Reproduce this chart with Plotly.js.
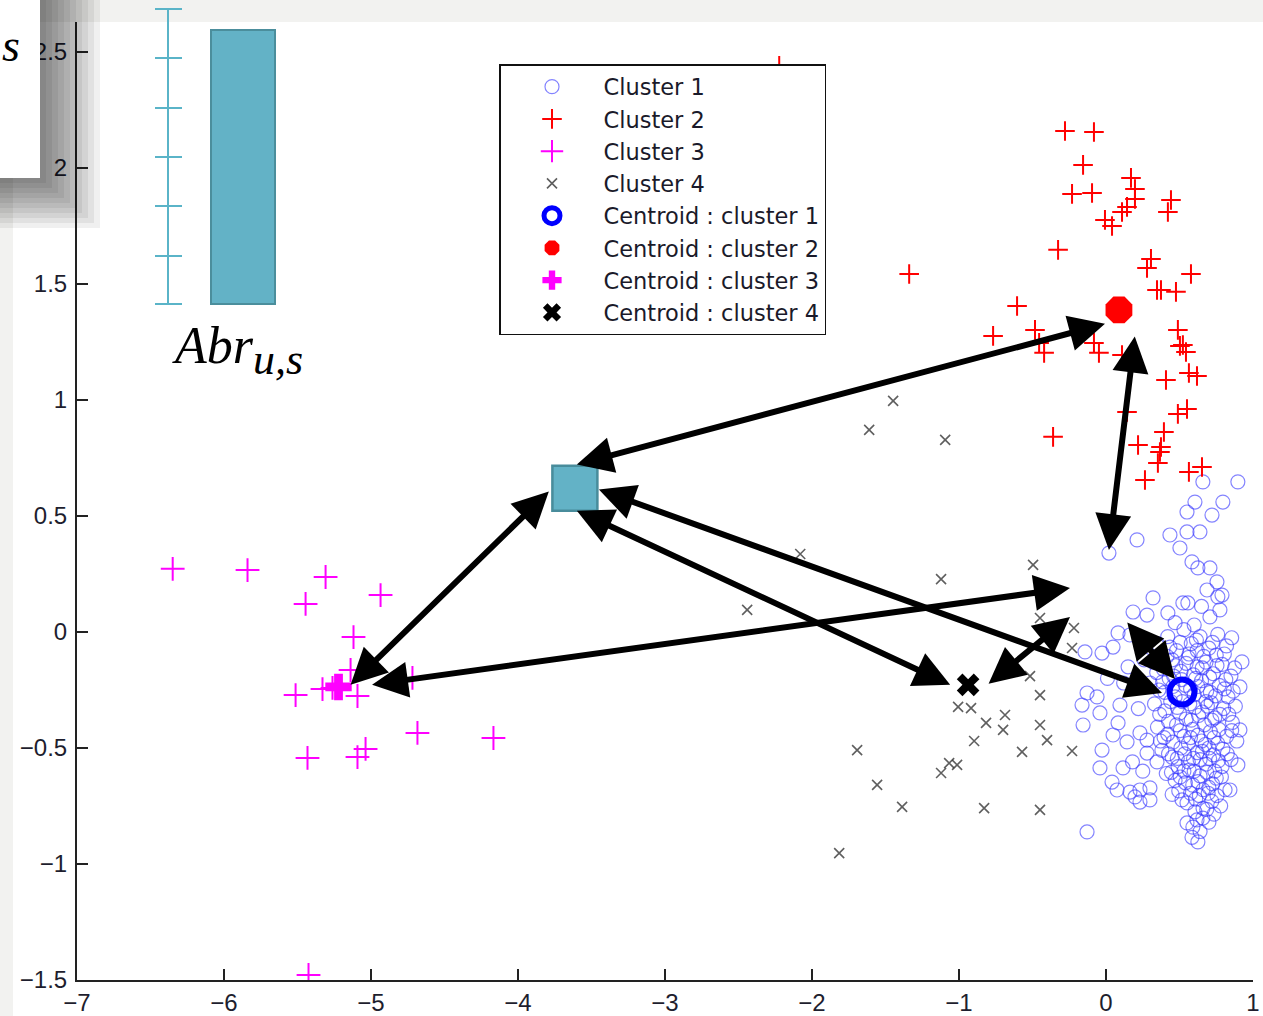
<!DOCTYPE html>
<html><head><meta charset="utf-8">
<script src="https://cdn.plot.ly/plotly-3.0.1.min.js"></script>
<style>html,body{margin:0;padding:0;background:#f2f2f0;}#chart{width:1263px;height:1016px;}</style>
</head><body><div id="chart"></div>
<script>
// ---- Cluster 1 (blue open circles) ----
const cluster1X = [0.897,0.659,0.795,0.605,0.551,0.721,0.435,0.551,0.639,0.211,0.020,0.503,0.585,0.625,0.707,0.755,0.687,0.761,0.789,0.320,0.523,0.557,0.184,0.279,0.421,0.707,0.775,0.650,0.470,0.600,
0.082,0.163,0.048,-0.027,-0.143,-0.129,-0.061,-0.163,-0.041,-0.156,0.095,0.082,0.048,0.143,-0.027,-0.041,0.116,0.041,0.075,0.163,0.231,0.299,0.197,0.231,0.299,-0.129,0.279,0.347,0.231,0.279,0.010,0.150,0.200,0.220,0.120,0.260,0.180,0.250,
0.350,0.420,0.480,0.530,0.580,0.640,0.700,0.760,0.820,0.925,0.911,
0.320,0.390,0.450,0.510,0.560,0.620,0.680,0.730,0.790,0.850,
0.300,0.360,0.430,0.470,0.540,0.600,0.650,0.710,0.770,0.830,0.880,
0.330,0.400,0.440,0.500,0.570,0.630,0.690,0.740,0.800,0.860,
0.350,0.420,0.480,0.530,0.590,0.650,0.710,0.760,0.820,0.890,0.911,
0.380,0.450,0.510,0.560,0.620,0.680,0.730,0.790,0.850,0.897,
0.410,0.470,0.530,0.590,0.640,0.700,0.750,0.810,0.843,
0.450,0.517,0.551,0.610,0.660,0.720,0.780,
0.551,0.591,0.619,0.659,0.700,0.640,
0.460,0.520,0.580,0.610,0.670,0.700,0.640,0.560,0.490,0.740,0.680,0.600,0.660,0.720,0.770,0.540,0.400,0.370,0.620,0.750,
0.435,0.505,0.565,0.615,0.665,0.725,0.805,0.855,
0.345,0.415,0.475,0.545,0.595,0.655,0.705,0.755,0.815,0.875,
0.385,0.455,0.515,0.575,0.625,0.685,0.745,0.805,0.865,
0.365,0.425,0.485,0.545,0.605,0.655,0.715,0.775,0.835,
0.395,0.455,0.505,0.575,0.625,0.675,0.735,0.795,0.855,
0.425,0.485,0.535,0.595,0.655,0.705,0.765,0.825,
0.445,0.505,0.565,0.625,0.685,0.725,0.785,
0.495,0.575,0.635,0.695,0.755,
0.605,0.685,0.735,0.585,0.625];
const cluster1Y = [0.647,0.647,0.560,0.560,0.517,0.504,0.418,0.431,0.431,0.397,0.340,0.362,0.302,0.276,0.276,0.216,0.181,0.151,0.159,0.147,0.125,0.125,0.086,0.073,0.082,0.065,0.095,0.110,0.040,0.030,
-0.004,-0.013,-0.065,-0.091,-0.086,-0.263,-0.280,-0.315,-0.349,-0.401,-0.315,-0.392,-0.444,-0.474,-0.509,-0.586,-0.586,-0.647,-0.681,-0.690,-0.681,-0.672,-0.711,-0.733,-0.724,-0.862,-0.522,-0.560,-0.435,-0.466,-0.200,-0.150,-0.240,-0.330,-0.220,-0.120,-0.560,-0.600,
-0.050,-0.020,-0.080,0.010,-0.050,-0.020,-0.070,-0.010,-0.060,-0.129,-0.237,
-0.130,-0.160,-0.120,-0.170,-0.110,-0.150,-0.130,-0.180,-0.140,-0.190,
-0.220,-0.250,-0.200,-0.280,-0.230,-0.270,-0.210,-0.260,-0.230,-0.280,-0.320,
-0.310,-0.340,-0.300,-0.350,-0.310,-0.360,-0.320,-0.370,-0.330,-0.390,
-0.410,-0.440,-0.400,-0.450,-0.420,-0.470,-0.430,-0.480,-0.450,-0.470,-0.422,
-0.510,-0.540,-0.500,-0.560,-0.520,-0.570,-0.530,-0.580,-0.550,-0.573,
-0.610,-0.640,-0.600,-0.660,-0.620,-0.670,-0.630,-0.680,-0.681,
-0.700,-0.724,-0.737,-0.720,-0.760,-0.730,-0.750,
-0.823,-0.841,-0.810,-0.802,-0.820,-0.860,
-0.190,-0.300,-0.380,-0.200,-0.400,-0.500,-0.550,-0.480,-0.580,-0.600,-0.300,-0.600,-0.680,-0.380,-0.420,-0.650,-0.260,-0.470,-0.080,-0.100,
-0.065,-0.045,-0.095,-0.035,-0.105,-0.045,-0.095,-0.025,
-0.175,-0.105,-0.145,-0.135,-0.185,-0.155,-0.195,-0.145,-0.205,-0.155,
-0.215,-0.235,-0.205,-0.245,-0.235,-0.255,-0.275,-0.245,-0.255,
-0.355,-0.385,-0.325,-0.375,-0.325,-0.345,-0.305,-0.355,-0.355,
-0.455,-0.475,-0.425,-0.455,-0.445,-0.485,-0.455,-0.505,-0.425,
-0.525,-0.545,-0.525,-0.545,-0.515,-0.545,-0.555,-0.525,
-0.605,-0.625,-0.595,-0.645,-0.605,-0.655,-0.625,
-0.685,-0.695,-0.705,-0.695,-0.705,
-0.775,-0.765,-0.785,-0.885,-0.905];

// ---- Cluster 2 (red +) ----
const cluster2X = [-2.223,-1.339,-0.279,-0.082,-0.156,0.170,-0.231,-0.095,0.197,0.197,0.143,0.109,-0.007,0.041,0.442,0.421,-0.326,0.306,0.279,0.578,0.347,0.374,0.476,-0.605,-0.768,-0.483,-0.455,-0.421,-0.082,-0.048,0.109,0.489,0.523,0.544,0.503,0.564,0.619,0.408,0.143,0.489,0.551,-0.360,0.394,0.374,0.367,0.353,0.218,0.265,0.564,0.653];
const cluster2Y = [2.440,1.543,2.159,2.155,2.013,1.957,1.888,1.892,1.909,1.866,1.832,1.810,1.776,1.750,1.862,1.810,1.647,1.608,1.569,1.543,1.474,1.474,1.466,1.405,1.276,1.302,1.246,1.203,1.246,1.203,1.194,1.302,1.237,1.207,1.233,1.116,1.103,1.086,0.948,0.940,0.961,0.841,0.862,0.797,0.776,0.728,0.806,0.655,0.690,0.711];

// ---- Cluster 3 (magenta +) ----
const cluster3X = [-6.349,-5.840,-5.309,-5.445,-4.935,-5.119,-5.513,-5.330,-5.139,-5.092,-4.718,-4.684,-4.167,-5.432,-5.092,-5.037,-5.425,-5.262];
const cluster3Y = [0.272,0.267,0.237,0.121,0.159,-0.022,-0.272,-0.246,-0.164,-0.276,-0.198,-0.435,-0.457,-0.543,-0.539,-0.504,-1.478,-0.241];

// ---- Cluster 4 (grey x) ----
const cluster4X = [-1.448,-1.611,-1.094,-2.080,-2.441,-1.122,-0.496,-0.449,-0.218,-0.231,-0.517,-0.449,-1.006,-0.918,-0.816,-0.687,-0.700,-0.449,-0.401,-0.897,-0.571,-0.231,-1.693,-1.067,-1.013,-1.122,-1.557,-1.387,-0.829,-0.449,-1.815];
const cluster4Y = [0.996,0.871,0.828,0.336,0.095,0.228,0.289,0.060,0.017,-0.069,-0.190,-0.272,-0.323,-0.328,-0.392,-0.358,-0.422,-0.401,-0.466,-0.470,-0.517,-0.513,-0.509,-0.565,-0.573,-0.608,-0.659,-0.754,-0.759,-0.767,-0.953];

// ---- Centroids ----
const centroidNames = ['Centroid : cluster 1','Centroid : cluster 2','Centroid : cluster 3','Centroid : cluster 4'];
const centroidX = [0.517, 0.088, -5.221, -0.938];
const centroidY = [-0.259, 1.388, -0.237, -0.228];

// ---- Abr_{u,s} point (teal square) ----
const abrX = [-3.613];
const abrY = [0.619];

// ---- Double-headed arrows: tail (start) and head (end) ----
const arrowStartX = [-3.610, 0.197, -3.780, -5.003, -3.460, -3.610, -0.809, 0.136];
const arrowStartY = [ 0.720, 1.280,  0.612, -0.228,  0.616,  0.526, -0.228, 0.047];
const arrowEndX   = [-0.007, 0.020, -5.139, -0.245,  0.381, -1.060, -0.245, 0.469];
const arrowEndY   = [ 1.328, 0.353, -0.228,  0.190, -0.263, -0.228,  0.065, -0.203];

// ---- Axis ticks ----
const xTicks = [-7,-6,-5,-4,-3,-2,-1,0,1];
const yTicks = [-1.5,-1,-0.5,0,0.5,1,1.5,2,2.5];

// pixel helpers for decorative layout items (plot area: x 77..1253, y 22..980)
const L = 77, R = 1253, T = 22, B = 980;
const px = v => (v - L) / (R - L);
const py = v => (B - v) / (B - T);

const traces = [
  {x: cluster1X, y: cluster1Y, type: 'scatter', mode: 'markers', name: 'Cluster 1',
   marker: {symbol: 'circle-open', size: 14, color: 'rgba(50,50,255,0.6)', line: {width: 1.2}}},
  {x: cluster2X, y: cluster2Y, type: 'scatter', mode: 'markers', name: 'Cluster 2',
   marker: {symbol: 'cross-thin-open', size: 14, color: '#ff0000', line: {width: 2, color: '#ff0000'}}},
  {x: cluster3X, y: cluster3Y, type: 'scatter', mode: 'markers', name: 'Cluster 3',
   marker: {symbol: 'cross-thin-open', size: 17, color: '#ff00ff', line: {width: 2, color: '#ff00ff'}}},
  {x: cluster4X, y: cluster4Y, type: 'scatter', mode: 'markers', name: 'Cluster 4',
   marker: {symbol: 'x-thin-open', size: 10, color: 'rgba(55,55,55,0.8)', line: {width: 1.6, color: 'rgba(55,55,55,0.8)'}}},
  {x: [centroidX[0]], y: [centroidY[0]], type: 'scatter', mode: 'markers', name: centroidNames[0],
   marker: {symbol: 'circle-open', size: 25, color: '#0000ff', line: {width: 6, color: '#0000ff'}}},
  {x: [centroidX[1]], y: [centroidY[1]], type: 'scatter', mode: 'markers', name: centroidNames[1],
   marker: {symbol: 'octagon', size: 29, color: '#ff0000', line: {width: 0}}},
  {x: [centroidX[2]], y: [centroidY[2]], type: 'scatter', mode: 'markers', name: centroidNames[2],
   marker: {symbol: 'cross', size: 22, color: '#ff00ff', line: {width: 0}}},
  {x: [centroidX[3]], y: [centroidY[3]], type: 'scatter', mode: 'markers', name: centroidNames[3],
   marker: {symbol: 'x', size: 20, color: '#000000', line: {width: 0}}},
  {x: abrX, y: abrY, type: 'scatter', mode: 'markers', showlegend: false, hoverinfo: 'skip',
   marker: {symbol: 'square', size: 45, color: '#63b2c6', line: {width: 2.5, color: '#488c9b'}}}
];

const annotations = arrowStartX.map((sx, i) => ({
  x: arrowEndX[i], y: arrowEndY[i], ax: sx, ay: arrowStartY[i],
  xref: 'x', yref: 'y', axref: 'x', ayref: 'y',
  text: '', showarrow: true, arrowside: 'end+start',
  arrowhead: 2, startarrowhead: 2, arrowsize: 1.2, startarrowsize: 1.2,
  arrowwidth: 6, arrowcolor: '#000000', standoff: 0, startstandoff: 0,
  font: {size: 1}
}));
annotations.push({
  xref: 'paper', yref: 'paper', x: px(170), y: py(350), xanchor: 'left', yanchor: 'middle',
  text: '<i>Abr<sub><span style="font-size:44px">u,s</span></sub></i>', showarrow: false,
  font: {family: 'Liberation Serif, serif', size: 52, color: '#000'}
});
annotations.push({
  xref: 'paper', yref: 'paper', x: px(0), y: py(45), xanchor: 'left', yanchor: 'middle',
  text: '<i>s</i>', showarrow: false,
  font: {family: 'Liberation Serif, serif', size: 46, color: '#000'}
});

const shapes = [];
// white figure area (grey band on top and left strip)
shapes.push({type: 'rect', xref: 'paper', yref: 'paper', layer: 'below',
  x0: px(13), x1: px(1300), y0: py(1050), y1: py(22), fillcolor: '#ffffff', line: {width: 0}});
// drop shadow of the top-left box
for (let k = 1; k <= 10; k++) {
  shapes.push({type: 'rect', xref: 'paper', yref: 'paper', layer: 'above',
    x0: px(-20), x1: px(40 + 6 * k), y0: py(178 + 5 * k), y1: py(-20),
    fillcolor: 'rgba(0,0,0,0.06)', line: {width: 0}});
}
shapes.push({type: 'rect', xref: 'paper', yref: 'paper', layer: 'above',
  x0: px(-20), x1: px(40), y0: py(178), y1: py(-20), fillcolor: '#ffffff', line: {width: 0}});
// inset scale
const insetColor = '#5ab4c8';
shapes.push({type: 'line', xref: 'paper', yref: 'paper', layer: 'above',
  x0: px(168), x1: px(168), y0: py(9), y1: py(304), line: {color: insetColor, width: 2}});
[9, 58, 108, 157, 206, 256, 304].forEach(v => shapes.push({type: 'line', xref: 'paper', yref: 'paper', layer: 'above',
  x0: px(155), x1: px(182), y0: py(v), y1: py(v), line: {color: insetColor, width: 2}}));
shapes.push({type: 'rect', xref: 'paper', yref: 'paper', layer: 'above',
  x0: px(211), x1: px(275), y0: py(304), y1: py(30), fillcolor: '#63b2c6', line: {color: '#4b8e9c', width: 2}});

const tickFont = {family: 'Liberation Sans, Arial, sans-serif', size: 24, color: '#1e1e2e'};

const layout = {
  width: 1263, height: 1016,
  margin: {l: L, r: 1263 - R, t: T, b: 1016 - B, pad: 0},
  paper_bgcolor: '#f2f2f0', plot_bgcolor: '#ffffff',
  showlegend: true,
  legend: {x: px(499), y: py(64), xanchor: 'left', yanchor: 'top',
    bgcolor: '#ffffff', bordercolor: '#111111', borderwidth: 1.5,
    font: {family: 'DejaVu Sans, sans-serif', size: 22.5, color: '#1a1a2a'},
    itemwidth: 93, tracegroupgap: 0, itemclick: false},
  xaxis: {range: [-7, 1], tickvals: xTicks, ticks: 'inside', ticklen: 11, tickwidth: 1.5, tickcolor: '#222',
    showline: true, linecolor: '#222', linewidth: 2, showgrid: false, zeroline: false,
    tickfont: tickFont, ticklabelstandoff: 0},
  yaxis: {range: [-1.5, 2.629], tickvals: yTicks, ticks: 'inside', ticklen: 11, tickwidth: 1.5, tickcolor: '#222',
    showline: true, linecolor: '#222', linewidth: 2, showgrid: false, zeroline: false,
    tickfont: tickFont, ticklabelstandoff: 3},
  annotations: annotations,
  shapes: shapes
};

Plotly.newPlot('chart', traces, layout, {displayModeBar: false, staticPlot: true});
</script></body></html>
